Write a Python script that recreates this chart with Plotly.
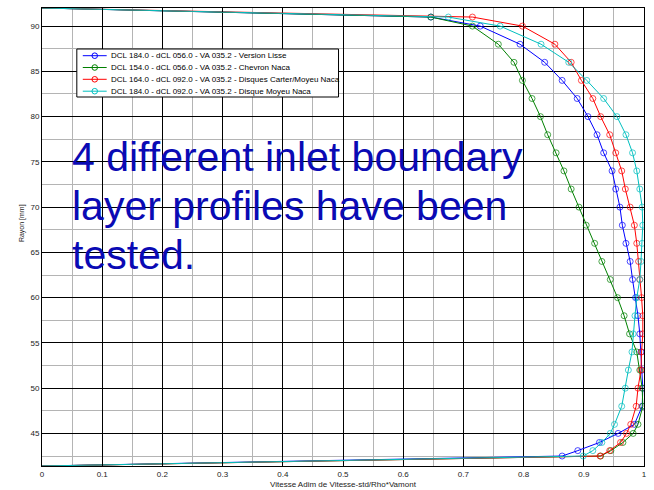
import plotly.graph_objects as go

# Radius positions (mm) of measurement points (wall -> wall)
rayon = [92.0, 91.0, 90, 88, 86, 84, 82, 80, 78, 76, 74, 72, 70, 68, 66, 64,
         62, 60, 58, 56, 54, 52, 50, 48, 46, 45, 44, 43.1, 42.5, 41.4]

v_lisse = [0, 0.646, 0.728, 0.794, 0.835, 0.864, 0.889, 0.907, 0.922, 0.933,
           0.947, 0.953, 0.960, 0.964, 0.970, 0.977, 0.981, 0.986, 0.990, 0.993,
           0.995, 0.997, 0.998, 0.997, 0.984, 0.957, 0.926, 0.890, 0.864, 0]

v_chevron = [0, 0.646, 0.715, 0.758, 0.784, 0.798, 0.814, 0.828, 0.840, 0.854,
             0.867, 0.879, 0.892, 0.904, 0.918, 0.930, 0.944, 0.956, 0.967, 0.976,
             0.988, 0.993, 0.997, 0.998, 0.990, 0.982, 0.965, 0.945, 0.928, 0]

v_carter = [0, 0.715, 0.798, 0.852, 0.879, 0.896, 0.915, 0.928, 0.943, 0.953,
            0.963, 0.969, 0.977, 0.984, 0.988, 0.991, 0.993, 0.996, 0.998, 0.998,
            0.996, 0.995, 0.990, 0.987, 0.978, 0.971, 0.961, 0.943, 0.927, 0]

v_moyeu = [0, 0.675, 0.761, 0.829, 0.875, 0.905, 0.933, 0.955, 0.970, 0.981,
           0.988, 0.993, 0.997, 0.998, 0.997, 0.995, 0.993, 0.988, 0.985, 0.982,
           0.980, 0.974, 0.969, 0.963, 0.951, 0.944, 0.930, 0.915, 0.899, 0]

series_names = [
    "DCL 184.0 - dCL 056.0 - VA 035.2 - Version Lisse",
    "DCL 154.0 - dCL 056.0 - VA 035.2 - Chevron Naca",
    "DCL 164.0 - dCL 092.0 - VA 035.2 - Disques Carter/Moyeu Naca",
    "DCL 184.0 - dCL 092.0 - VA 035.2 - Disque Moyeu Naca",
]
series_values = [v_lisse, v_chevron, v_carter, v_moyeu]
series_colors = ["#0000FF", "#008000", "#FF0000", "#00BFBF"]

x_title = "Vitesse Adim de Vitesse-std/Rho*Vamont"
y_title = "Rayon [mm]"
note_lines = ["4 different inlet boundary", "layer profiles have been", "tested."]

W, H = 654, 490
ML, MR, MT, MB = 42, 7, 8, 24
PW, PH = W - ML - MR, H - MT - MB


def px_x(px):
    return (px - ML) / PW


def px_y(py):
    return (H - MB - py) / PH


fig = go.Figure()
font = "Liberation Sans, Arial, sans-serif"

for name, vals, col in zip(series_names, series_values, series_colors):
    n = len(vals)
    sizes = [0] + [6] * (n - 2) + [0]
    fig.add_trace(go.Scatter(
        x=vals, y=rayon, mode="lines+markers", name=name,
        line=dict(color=col, width=1),
        marker=dict(symbol="circle-open", size=sizes, color=col,
                    line=dict(color=col, width=1)),
        showlegend=False,
    ))

axis_common = dict(
    showgrid=True, gridcolor="#000000", gridwidth=1,
    showline=True, linecolor="#000000", linewidth=1, mirror="ticks",
    ticks="inside", ticklen=4, tickcolor="#000000",
    tickfont=dict(family=font, size=8, color="#222222"),
    zeroline=False,
)

fig.update_xaxes(range=[0, 1], tick0=0, dtick=0.1,
                 minor=dict(dtick=0.05, showgrid=True, gridcolor="#b4b4b4", gridwidth=1),
                 **axis_common)
fig.update_yaxes(range=[41.4, 92.0], tick0=0, dtick=5,
                 minor=dict(dtick=2.5, showgrid=True, gridcolor="#b4b4b4", gridwidth=1),
                 **axis_common)

shapes = []
annotations = []

# manual legend
lx0, lx1, ly0, ly1 = 77, 340, 49, 97
shapes.append(dict(type="rect", xref="paper", yref="paper",
                   x0=px_x(lx0), x1=px_x(lx1), y0=px_y(ly1), y1=px_y(ly0),
                   line=dict(color="black", width=1), fillcolor="white", layer="above"))
rows = [55.7, 67.5, 79.3, 91.2]
for name, col, ry in zip(series_names, series_colors, rows):
    shapes.append(dict(type="line", xref="paper", yref="paper",
                       x0=px_x(83), x1=px_x(107), y0=px_y(ry), y1=px_y(ry),
                       line=dict(color=col, width=1), layer="above"))
    r = 2.8
    shapes.append(dict(type="circle", xref="paper", yref="paper",
                       x0=px_x(95 - r), x1=px_x(95 + r), y0=px_y(ry + r), y1=px_y(ry - r),
                       line=dict(color=col, width=1), layer="above"))
    annotations.append(dict(text=name, xref="paper", yref="paper",
                            x=px_x(109), y=px_y(ry), xanchor="left", yanchor="middle",
                            showarrow=False, font=dict(family=font, size=8, color="black")))

# big note
for line, cy in zip(note_lines, [157, 206, 255]):
    annotations.append(dict(text=line, xref="paper", yref="paper",
                            x=px_x(70), y=px_y(cy), xanchor="left", yanchor="middle",
                            showarrow=False,
                            font=dict(family=font, size=41, color="rgb(10,10,180)")))

# axis titles
annotations.append(dict(text=x_title, xref="paper", yref="paper",
                        x=px_x(345), y=px_y(485), xanchor="center", yanchor="middle",
                        showarrow=False, font=dict(family=font, size=8, color="#222222")))
annotations.append(dict(text=y_title, xref="paper", yref="paper",
                        x=px_x(22), y=px_y(223), xanchor="center", yanchor="middle",
                        textangle=-90, showarrow=False,
                        font=dict(family=font, size=7, color="#222222")))

fig.update_layout(
    width=W, height=H,
    margin=dict(l=ML, r=MR, t=MT, b=MB, pad=0),
    paper_bgcolor="white", plot_bgcolor="white",
    shapes=shapes, annotations=annotations,
    showlegend=False,
)

fig.write_html("out.html",
               config={"displayModeBar": False},
               post_script="document.body.style.margin='0px';document.body.style.overflow='hidden';")
